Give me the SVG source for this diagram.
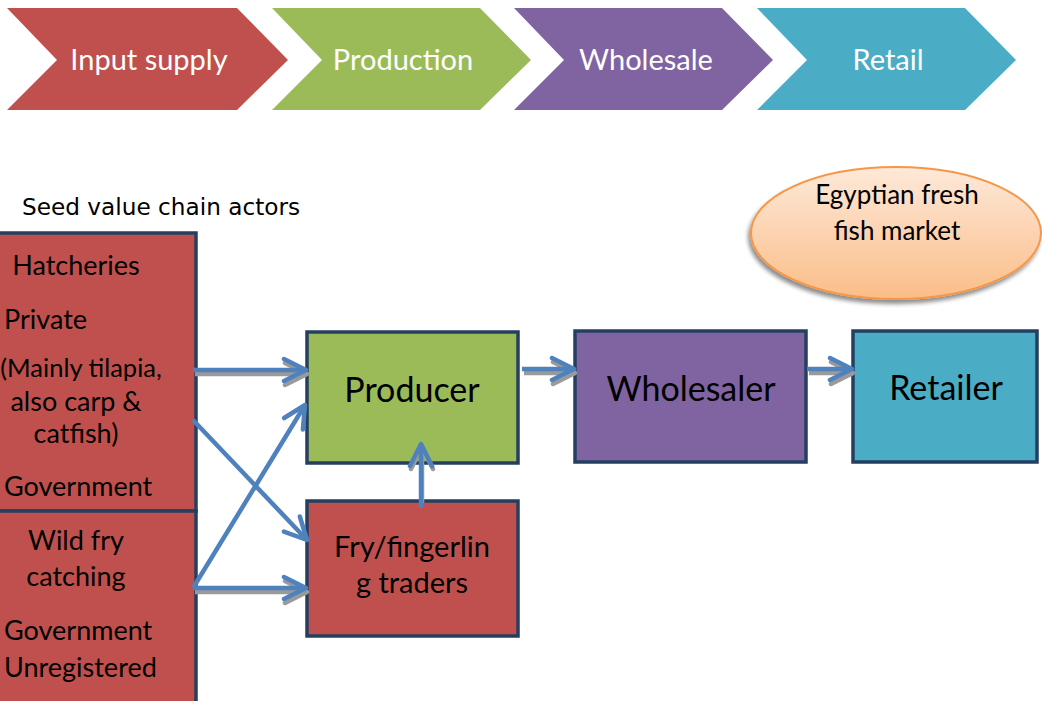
<svg xmlns="http://www.w3.org/2000/svg" width="1042" height="701" viewBox="0 0 1042 701">
  <defs>
    <style>
      .chev-text { font-family: Lato, "Liberation Sans", sans-serif; font-size: 29px; fill: #ffffff; text-anchor: middle; }
      .box { stroke: #243f60; stroke-width: 3.5; }
      .red { fill: #c0504d; }
      .green { fill: #9bbb59; }
      .purple { fill: #8064a2; }
      .teal { fill: #4bacc6; }
      .lbl { font-family: Lato, "Liberation Sans", sans-serif; fill: #000000; }
      .big { font-size: 34px; text-anchor: middle; }
      .mid { font-size: 27px; }
      .ctr { text-anchor: middle; }
      .conn { fill: none; stroke: #4f81bd; stroke-width: 4.5; stroke-linejoin: round; }
      .shadow { fill: none; stroke: #9a9a9a; stroke-width: 4.5; stroke-linejoin: round; }
    </style>
    <marker id="head" viewBox="-26 -14 30 28" refX="0" refY="0" markerWidth="30" markerHeight="28" markerUnits="userSpaceOnUse" orient="auto">
      <path d="M -22 -11 L 0 0 L -22 11" fill="none" stroke="#4f81bd" stroke-width="4.5" stroke-linejoin="round" stroke-linecap="round"/>
    </marker>
    <marker id="headShadow" viewBox="-26 -14 30 28" refX="0" refY="0" markerWidth="30" markerHeight="28" markerUnits="userSpaceOnUse" orient="auto">
      <path d="M -22 -11 L 0 0 L -22 11" fill="none" stroke="#9a9a9a" stroke-width="4.5" stroke-linejoin="round" stroke-linecap="round"/>
    </marker>
    <linearGradient id="peach" x1="0" y1="0" x2="0" y2="1">
      <stop offset="0" stop-color="#fde9d9"/>
      <stop offset="1" stop-color="#fbbd88"/>
    </linearGradient>
    <filter id="dshadow" x="-10%" y="-10%" width="120%" height="130%">
      <feGaussianBlur in="SourceAlpha" stdDeviation="2"/>
      <feOffset dx="-2" dy="4" result="b"/>
      <feComponentTransfer><feFuncA type="linear" slope="0.45"/></feComponentTransfer>
      <feMerge><feMergeNode/><feMergeNode in="SourceGraphic"/></feMerge>
    </filter>
  </defs>

  <rect x="0" y="0" width="1042" height="701" fill="#ffffff"/>

  <!-- Stage chevrons -->
  <g id="stage-input-supply">
    <polygon class="red" points="7,8 237,8 288,60 237,110 7,110 57,60"/>
    <text class="chev-text" x="149" y="70">Input supply</text>
  </g>
  <g id="stage-production">
    <polygon class="green" points="272,8 480,8 531,60 480,110 272,110 322,60"/>
    <text class="chev-text" x="403" y="70">Production</text>
  </g>
  <g id="stage-wholesale">
    <polygon class="purple" points="514,8 722,8 773,60 722,110 514,110 564,60"/>
    <text class="chev-text" x="646" y="70">Wholesale</text>
  </g>
  <g id="stage-retail">
    <polygon class="teal" points="757,8 965,8 1016,60 965,110 757,110 807,60"/>
    <text class="chev-text" x="888" y="70">Retail</text>
  </g>

  <!-- Heading -->
  <g id="heading">
    <text x="22" y="215" font-family="'DejaVu Sans', Verdana, sans-serif" font-size="23.2" fill="#000000">Seed value chain actors</text>
  </g>

  <!-- Market ellipse -->
  <g id="market">
    <ellipse cx="896" cy="233" rx="145" ry="66" fill="url(#peach)" stroke="#f79646" stroke-width="2" filter="url(#dshadow)"/>
    <text class="lbl ctr" x="897" y="204" font-size="26">Egyptian fresh</text>
    <text class="lbl ctr" x="897" y="240" font-size="26">fish market</text>
  </g>

  <!-- Hatcheries -->
  <g id="hatcheries">
    <rect class="box red" x="-10" y="233" width="206" height="278"/>
    <text class="lbl mid ctr" x="76" y="275">Hatcheries</text>
    <text class="lbl mid" x="4" y="329">Private</text>
    <text class="lbl ctr" x="81" y="377" font-size="25.5">(Mainly tilapia,</text>
    <text class="lbl mid ctr" x="76" y="411">also carp &amp;</text>
    <text class="lbl mid ctr" x="76" y="443">catfish)</text>
    <text class="lbl mid" x="4" y="496">Government</text>
  </g>

  <!-- Wild fry catching -->
  <g id="wild-fry">
    <rect class="box red" x="-10" y="511" width="206" height="200"/>
    <text class="lbl mid ctr" x="76" y="550">Wild fry</text>
    <text class="lbl mid ctr" x="76" y="586">catching</text>
    <text class="lbl mid" x="4" y="640">Government</text>
    <text class="lbl mid" x="4" y="677">Unregistered</text>
  </g>

  <!-- Producer -->
  <g id="producer">
    <rect class="box green" x="307" y="332" width="211" height="131"/>
    <text class="lbl big" x="412" y="402">Producer</text>
  </g>

  <!-- Fry/fingerling traders -->
  <g id="fry-traders">
    <rect class="box red" x="307" y="501" width="211" height="135"/>
    <text class="lbl ctr" x="412" y="557" font-size="29">Fry/fingerlin</text>
    <text class="lbl ctr" x="412" y="593" font-size="29">g traders</text>
  </g>

  <!-- Wholesaler -->
  <g id="wholesaler">
    <rect class="box purple" x="575" y="331" width="231" height="131"/>
    <text class="lbl big" x="691" y="401">Wholesaler</text>
  </g>

  <!-- Retailer -->
  <g id="retailer">
    <rect class="box teal" x="853" y="331" width="184" height="131"/>
    <text class="lbl big" x="946" y="400">Retailer</text>
  </g>

  <!-- Connectors -->
  <g id="connectors">
    <!-- shadows -->
    <path class="shadow" d="M 195 374 L 307 374" marker-end="url(#headShadow)"/>
    <path class="shadow" d="M 195 592 L 307 592" marker-end="url(#headShadow)"/>
    <path class="shadow" d="M 524 373 L 575 373" marker-end="url(#headShadow)"/>
    <path class="shadow" d="M 809 373 L 853 373" marker-end="url(#headShadow)"/>
    <path class="shadow" d="M 422 503 L 422 447" marker-end="url(#headShadow)"/>
    <!-- arrows -->
    <path class="conn" d="M 193 370 L 306 370" marker-end="url(#head)"/>
    <path class="conn" d="M 193 420 L 307 540" marker-end="url(#head)"/>
    <path class="conn" d="M 193 588 L 305 405" marker-end="url(#head)"/>
    <path class="conn" d="M 193 588 L 306 588" marker-end="url(#head)"/>
    <path class="conn" d="M 421 508 L 421 444" marker-end="url(#head)"/>
    <path class="conn" d="M 522 369 L 574 369" marker-end="url(#head)"/>
    <path class="conn" d="M 807 369 L 852 369" marker-end="url(#head)"/>
  </g>
</svg>
